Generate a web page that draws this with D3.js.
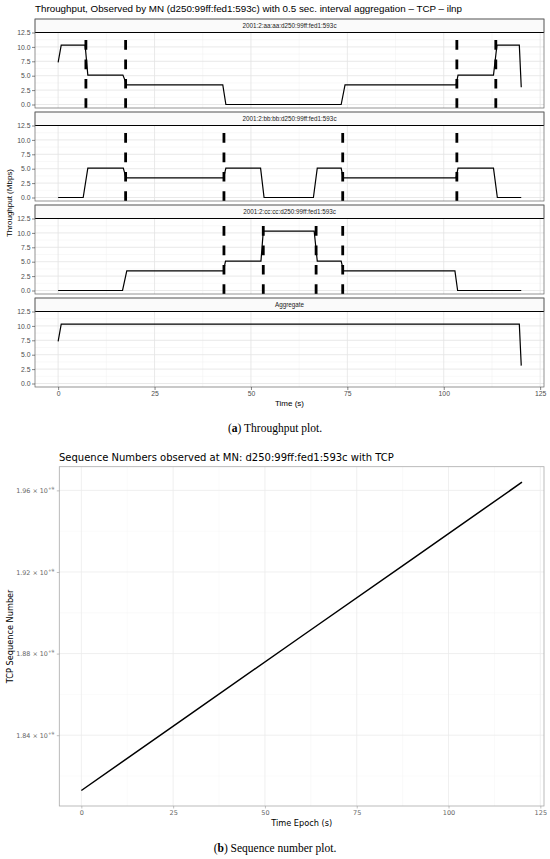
<!DOCTYPE html>
<html lang="en">
<head>
<meta charset="UTF-8">
<script src="https://d3js.org/d3.v7.min.js"></script>
<title>Throughput and sequence numbers</title>
<style>
  body { margin: 0; background: #fff; }
</style>
</head>
<body>
<svg id="chart"></svg>
<script>
// ---- data ----
const panelNames = ["2001:2:aa:aa:d250:99ff:fed1:593c", "2001:2:bb:bb:d250:99ff:fed1:593c",
                    "2001:2:cc:cc:d250:99ff:fed1:593c", "Aggregate"];

const timeAA = [0, 0.8, 7.0, 7.7, 16.8, 17.8, 42.7, 43.5, 73.4, 74.4, 103.2, 103.7, 112.9, 113.8, 119.6, 120.1];
const mbpsAA = [7.3, 10.3, 10.3, 5.1, 5.1, 3.4, 3.4, 0, 0, 3.4, 3.4, 5.1, 5.1, 10.3, 10.3, 3.0];

const timeBB = [0, 6.5, 7.7, 16.9, 17.6, 42.9, 43.5, 52.5, 53.4, 66.2, 67.2, 73.4, 73.9, 103.2, 103.7, 112.9, 113.9, 120.1];
const mbpsBB = [0, 0, 5.1, 5.1, 3.4, 3.4, 5.1, 5.1, 0, 0, 5.1, 5.1, 3.4, 3.4, 5.1, 5.1, 0, 0];

const timeCC = [0, 16.7, 17.8, 42.9, 43.4, 52.6, 53.2, 66.4, 67.2, 73.4, 74.0, 102.9, 103.6, 120.1];
const mbpsCC = [0, 0, 3.4, 3.4, 5.1, 5.1, 10.3, 10.3, 5.1, 5.1, 3.4, 3.4, 0, 0];

const timeAgg = [0, 0.8, 119.6, 120.1];
const mbpsAgg = [7.3, 10.3, 10.3, 3.1];

// handover instants (dashed lines) per panel
const handoverAA = [7.2, 17.5, 103.4, 113.5];
const handoverBB = [17.5, 43.0, 73.8, 103.4];
const handoverCC = [43.0, 53.2, 66.9, 73.8];
const handoverAgg = [];

const xTicks = [0, 25, 50, 75, 100, 125];
const yTicksTop = [0, 2.5, 5, 7.5, 10, 12.5];

const seqTime = [0, 30, 60, 90, 120];
const seqNumber = [1.8129e9, 1.8507e9, 1.8885e9, 1.9262e9, 1.9640e9];
const seqTicks = [1.84e9, 1.88e9, 1.92e9, 1.96e9];
const seqMinor = [1.82e9, 1.86e9, 1.90e9, 1.94e9];

// ---- setup ----
const W = 550, H = 859;
const svg = d3.select("#chart").attr("width", W).attr("height", H);
const sans = "'Liberation Sans', Arial, sans-serif";
const dejavu = "'DejaVu Sans', sans-serif";
const serif = "'Liberation Serif', serif";

const series = [
  {name: panelNames[0], t: timeAA, v: mbpsAA, ho: handoverAA},
  {name: panelNames[1], t: timeBB, v: mbpsBB, ho: handoverBB},
  {name: panelNames[2], t: timeCC, v: mbpsCC, ho: handoverCC},
  {name: panelNames[3], t: timeAgg, v: mbpsAgg, ho: handoverAgg}
];

// ---- (a) throughput facets ----
const x = d3.scaleLinear().domain([-6, 126]).range([35, 544]);
const panelH = 89, stripH = 13.5, pitch = 93, firstTop = 19;
const y = d3.scaleLinear().domain([0, 12.5]).range([85.5, 13.5]);
const xMinor = xTicks.slice(0, -1).map(d => d + 12.5);
const yMinor = yTicksTop.map(d => d + 1.25).filter(d => d < 12.5);

svg.append("text").attr("x", 35).attr("y", 12)
  .attr("font-family", sans).attr("font-size", 9.8).attr("fill", "#000")
  .text("Throughput, Observed by MN (d250:99ff:fed1:593c) with 0.5 sec. interval aggregation \u2013 TCP \u2013 ilnp");

const line = d3.line().x(d => x(d[0])).y(d => y(d[1]));

series.forEach((s, i) => {
  const g = svg.append("g").attr("transform", `translate(0,${firstTop + i * pitch})`);
  g.append("rect").attr("x", x.range()[0]).attr("y", 0)
    .attr("width", x.range()[1] - x.range()[0]).attr("height", panelH).attr("fill", "#fff");

  // grid
  g.selectAll(".minx").data(xMinor).join("line")
    .attr("x1", d => x(d)).attr("x2", d => x(d)).attr("y1", 0).attr("y2", panelH)
    .attr("stroke", "#f0f0f0").attr("stroke-width", 0.5);
  g.selectAll(".miny").data(yMinor).join("line")
    .attr("x1", x.range()[0]).attr("x2", x.range()[1]).attr("y1", d => y(d)).attr("y2", d => y(d))
    .attr("stroke", "#f0f0f0").attr("stroke-width", 0.5);
  g.selectAll(".majx").data(xTicks).join("line")
    .attr("x1", d => x(d)).attr("x2", d => x(d)).attr("y1", 0).attr("y2", panelH)
    .attr("stroke", "#e3e3e3").attr("stroke-width", 0.8);
  g.selectAll(".majy").data(yTicksTop).join("line")
    .attr("x1", x.range()[0]).attr("x2", x.range()[1]).attr("y1", d => y(d)).attr("y2", d => y(d))
    .attr("stroke", "#e3e3e3").attr("stroke-width", 0.8);

  // handover dashed lines
  g.selectAll(".ho").data(s.ho).join("line")
    .attr("x1", d => x(d)).attr("x2", d => x(d)).attr("y1", panelH).attr("y2", 0)
    .attr("stroke", "#000").attr("stroke-width", 2.8).attr("stroke-dasharray", "9.7,9.7");

  // throughput line
  g.append("path").attr("d", line(d3.zip(s.t, s.v)))
    .attr("fill", "none").attr("stroke", "#000").attr("stroke-width", 1.2);

  // strip
  g.append("rect").attr("x", x.range()[0]).attr("y", 0)
    .attr("width", x.range()[1] - x.range()[0]).attr("height", stripH)
    .attr("fill", "#fafafa").attr("stroke", "#555").attr("stroke-width", 0.6);
  g.append("line").attr("x1", x.range()[0]).attr("x2", x.range()[1])
    .attr("y1", y(12.5)).attr("y2", y(12.5)).attr("stroke", "#000").attr("stroke-width", 1);
  g.append("text").attr("x", (x.range()[0] + x.range()[1]) / 2).attr("y", 9)
    .attr("text-anchor", "middle").attr("font-family", sans).attr("font-size", 6.3)
    .attr("fill", "#1a1a1a").text(s.name);

  // panel border
  g.append("rect").attr("x", x.range()[0]).attr("y", 0)
    .attr("width", x.range()[1] - x.range()[0]).attr("height", panelH)
    .attr("fill", "none").attr("stroke", "#666").attr("stroke-width", 0.7);

  // y axis
  const ya = g.append("g").attr("transform", `translate(${x.range()[0]},0)`)
    .call(d3.axisLeft(y).tickValues(yTicksTop).tickFormat(d3.format(".1f")).tickSize(3).tickPadding(1.5));
  ya.select(".domain").remove();
  ya.selectAll("line").attr("stroke", "#333").attr("stroke-width", 0.6);
  ya.selectAll("text").attr("font-family", sans).attr("font-size", 6.8).attr("fill", "#4d4d4d");
});

// x axis under last panel
const lastBottom = firstTop + 3 * pitch + panelH;
const xa = svg.append("g").attr("transform", `translate(0,${lastBottom})`)
  .call(d3.axisBottom(x).tickValues(xTicks).tickSize(3).tickPadding(1.5));
xa.select(".domain").remove();
xa.selectAll("line").attr("stroke", "#333").attr("stroke-width", 0.6);
xa.selectAll("text").attr("font-family", sans).attr("font-size", 6.8).attr("fill", "#4d4d4d");

svg.append("text").attr("x", (x.range()[0] + x.range()[1]) / 2).attr("y", 406)
  .attr("text-anchor", "middle").attr("font-family", sans).attr("font-size", 8).text("Time (s)");
svg.append("text").attr("transform", `translate(12,${(firstTop + lastBottom) / 2}) rotate(-90)`)
  .attr("text-anchor", "middle").attr("font-family", sans).attr("font-size", 8).text("Throughput (Mbps)");

const capA = svg.append("text").attr("x", W / 2).attr("y", 432).attr("text-anchor", "middle")
  .attr("font-family", serif).attr("font-size", 11.5);
capA.append("tspan").text("(");
capA.append("tspan").attr("font-weight", "bold").text("a");
capA.append("tspan").text(") Throughput plot.");

// ---- (b) sequence numbers ----
const x2 = d3.scaleLinear().domain([-6, 126]).range([59.3, 544]);
const y2 = d3.scaleLinear().domain([1.8053e9, 1.9716e9]).range([806, 466.7]);
const x2Minor = xTicks.slice(0, -1).map(d => d + 12.5);

svg.append("text").attr("x", 59).attr("y", 460.5)
  .attr("font-family", dejavu).attr("font-size", 10).attr("fill", "#000")
  .text("Sequence Numbers observed at MN: d250:99ff:fed1:593c with TCP");

const g2 = svg.append("g");
g2.selectAll(".minx").data(x2Minor).join("line")
  .attr("x1", d => x2(d)).attr("x2", d => x2(d)).attr("y1", y2.range()[0]).attr("y2", y2.range()[1])
  .attr("stroke", "#f4f4f4").attr("stroke-width", 0.5);
g2.selectAll(".miny").data(seqMinor).join("line")
  .attr("x1", x2.range()[0]).attr("x2", x2.range()[1]).attr("y1", d => y2(d)).attr("y2", d => y2(d))
  .attr("stroke", "#f4f4f4").attr("stroke-width", 0.5);
g2.selectAll(".majx").data(xTicks).join("line")
  .attr("x1", d => x2(d)).attr("x2", d => x2(d)).attr("y1", y2.range()[0]).attr("y2", y2.range()[1])
  .attr("stroke", "#ebebeb").attr("stroke-width", 0.8);
g2.selectAll(".majy").data(seqTicks).join("line")
  .attr("x1", x2.range()[0]).attr("x2", x2.range()[1]).attr("y1", d => y2(d)).attr("y2", d => y2(d))
  .attr("stroke", "#ebebeb").attr("stroke-width", 0.8);

const line2 = d3.line().x(d => x2(d[0])).y(d => y2(d[1]));
g2.append("path").attr("d", line2(d3.zip(seqTime, seqNumber)))
  .attr("fill", "none").attr("stroke", "#000").attr("stroke-width", 1.5);

g2.append("rect").attr("x", x2.range()[0]).attr("y", y2.range()[1])
  .attr("width", x2.range()[1] - x2.range()[0]).attr("height", y2.range()[0] - y2.range()[1])
  .attr("fill", "none").attr("stroke", "#aaa").attr("stroke-width", 0.8);

const xa2 = svg.append("g").attr("transform", `translate(0,${y2.range()[0]})`)
  .call(d3.axisBottom(x2).tickValues(xTicks).tickSize(2.5).tickPadding(1.5));
xa2.select(".domain").remove();
xa2.selectAll("line").attr("stroke", "#999").attr("stroke-width", 0.6);
xa2.selectAll("text").attr("font-family", dejavu).attr("font-size", 6.5).attr("fill", "#666");

const ya2 = svg.append("g").attr("transform", `translate(${x2.range()[0]},0)`)
  .call(d3.axisLeft(y2).tickValues(seqTicks).tickSize(2.5).tickPadding(1.5).tickFormat(() => ""));
ya2.select(".domain").remove();
ya2.selectAll("line").attr("stroke", "#999").attr("stroke-width", 0.6);
ya2.selectAll(".tick text").each(function(d) {
  const t = d3.select(this).attr("font-family", dejavu).attr("font-size", 6.4).attr("fill", "#666");
  t.append("tspan").text(`${(d / 1e9).toFixed(2)} \u00d7 10`);
  t.append("tspan").attr("dy", -2.8).attr("font-size", 4.4).text("+9");
  t.append("tspan").attr("dy", 2.8).attr("font-size", 4.4).text("\u2009");
});

svg.append("text").attr("x", (x2.range()[0] + x2.range()[1]) / 2).attr("y", 826)
  .attr("text-anchor", "middle").attr("font-family", dejavu).attr("font-size", 8.2).text("Time Epoch (s)");
svg.append("text").attr("transform", `translate(13,${(y2.range()[0] + y2.range()[1]) / 2}) rotate(-90)`)
  .attr("text-anchor", "middle").attr("font-family", dejavu).attr("font-size", 8.2).text("TCP Sequence Number");

const capB = svg.append("text").attr("x", W / 2).attr("y", 852).attr("text-anchor", "middle")
  .attr("font-family", serif).attr("font-size", 11.5);
capB.append("tspan").text("(");
capB.append("tspan").attr("font-weight", "bold").text("b");
capB.append("tspan").text(") Sequence number plot.");
</script>
</body>
</html>
